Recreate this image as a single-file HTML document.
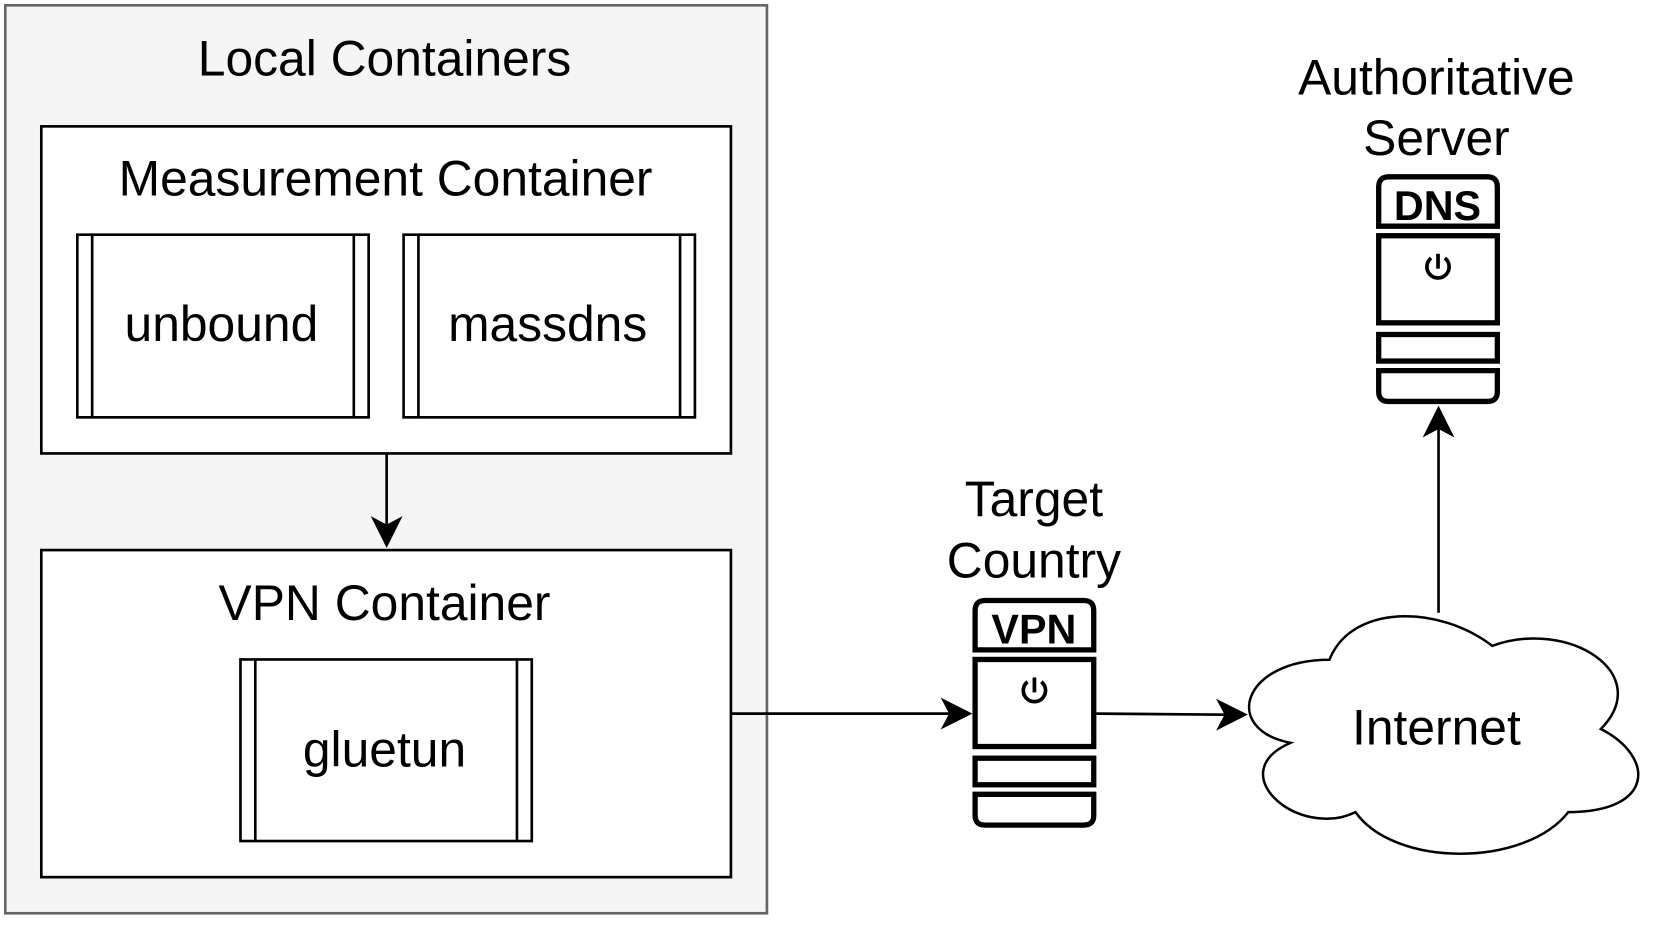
<!DOCTYPE html>
<html><head><meta charset="utf-8"><style>
html,body{margin:0;padding:0;background:#fff;width:1661px;height:926px;overflow:hidden}
svg{display:block}
text{font-family:"Liberation Sans",sans-serif;fill:#000}
</style></head><body>
<svg width="1661" height="926" viewBox="0 0 1568 872" preserveAspectRatio="none" xmlns="http://www.w3.org/2000/svg">
<defs>
<g id="srv" fill="none" stroke="#000" stroke-width="5">
<path d="M2.5,49 V12 Q2.5,2.5 12,2.5 H105 Q114.5,2.5 114.5,12 V49 Z" fill="#fff"/>
<rect x="2.5" y="58" width="112" height="82" fill="#fff"/>
<rect x="2.5" y="151" width="112" height="25" fill="#fff"/>
<path d="M2.5,185 V205 Q2.5,214 12,214 H105 Q114.5,214 114.5,205 V185 Z" fill="#fff"/>
<path d="M52,79 A10.5,10.5 0 1 0 65,79" stroke-width="3.5"/>
<line x1="58.5" y1="75" x2="58.5" y2="89" stroke-width="3.5"/>
</g>
</defs>
<rect x="5" y="5" width="719" height="855" fill="#f5f5f5" stroke="#666" stroke-width="2.5"/>
<text x="363" y="71" font-size="47" text-anchor="middle">Local Containers</text>
<rect x="39" y="119" width="651" height="308" fill="#fff" stroke="#000" stroke-width="2.5"/>
<text x="364" y="184" font-size="47" text-anchor="middle">Measurement Container</text>
<g fill="#fff" stroke="#000" stroke-width="2.5">
<rect x="73" y="221" width="275" height="172"/><line x1="87" y1="221" x2="87" y2="393"/><line x1="334" y1="221" x2="334" y2="393"/>
<rect x="381" y="221" width="275" height="172"/><line x1="395" y1="221" x2="395" y2="393"/><line x1="642" y1="221" x2="642" y2="393"/>
</g>
<text x="209" y="321" font-size="47" text-anchor="middle">unbound</text>
<text x="517" y="321" font-size="47" text-anchor="middle">massdns</text>
<line x1="365" y1="427" x2="365" y2="495" stroke="#000" stroke-width="2.5"/>
<path d="M350,486 L365,516 L380,486 L365,494 Z" fill="#000"/>
<rect x="39" y="518" width="651" height="308" fill="#fff" stroke="#000" stroke-width="2.5"/>
<text x="363" y="584" font-size="47" text-anchor="middle">VPN Container</text>
<g fill="#fff" stroke="#000" stroke-width="2.5">
<rect x="227" y="621" width="275" height="171"/><line x1="241" y1="621" x2="241" y2="792"/><line x1="488" y1="621" x2="488" y2="792"/>
</g>
<text x="363" y="722" font-size="47" text-anchor="middle">gluetun</text>
<line x1="690" y1="672" x2="898" y2="672" stroke="#000" stroke-width="2.5"/>
<path d="M888,657 L918,672 L888,687 L896,672 Z" fill="#000"/>
<text x="976" y="486" font-size="47" text-anchor="middle">Target</text>
<text x="976" y="544" font-size="47" text-anchor="middle">Country</text>
<use href="#srv" x="918" y="563"/>
<text x="976" y="606" font-size="39" font-weight="bold" text-anchor="middle">VPN</text>
<line x1="1035" y1="672" x2="1158" y2="673" stroke="#000" stroke-width="2.5"/>
<path d="M1148,658 L1178,673 L1148,688 L1156,673 Z" fill="#000"/>
<path transform="translate(-152.7,-88) scale(1.108,1.12)" vector-effect="non-scaling-stroke" d="M1270.5,633.25 C1196.5,633.25 1178,691.5 1237.2,703.15 C1178,728.8 1244.6,784.7 1292.7,761.4 C1326,808 1437,808 1474,761.4 C1548,761.4 1548,714.8 1501.75,691.5 C1548,644.9 1474,598.3 1409.25,621.6 C1363,586.65 1289,586.65 1270.5,633.25 Z" fill="#fff" stroke="#000" stroke-width="2.5"/>
<text x="1356" y="701" font-size="47" text-anchor="middle">Internet</text>
<line x1="1358" y1="577" x2="1358" y2="402" stroke="#000" stroke-width="2.5"/>
<path d="M1343,412 L1358,382 L1373,412 L1358,404 Z" fill="#000"/>
<text x="1356" y="89" font-size="47" text-anchor="middle">Authoritative</text>
<text x="1356" y="146" font-size="47" text-anchor="middle">Server</text>
<use href="#srv" x="1299" y="164"/>
<text x="1357" y="207" font-size="39" font-weight="bold" text-anchor="middle">DNS</text>
</svg>
</body></html>
